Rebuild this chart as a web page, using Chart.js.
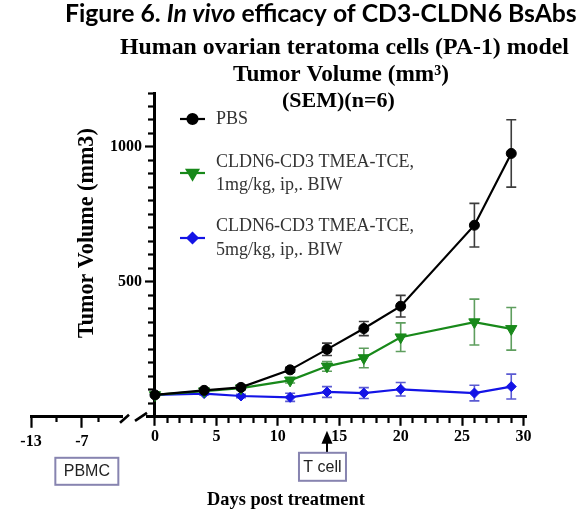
<!DOCTYPE html>
<html>
<head>
<meta charset="utf-8">
<script src="https://cdn.jsdelivr.net/npm/chart.js@4.4.1/dist/chart.umd.min.js"></script>
<style>
  html, body { margin: 0; padding: 0; background: #fff; }
  canvas { display: block; }
</style>
</head>
<body>
<canvas id="chart" width="585" height="515"></canvas>
<script>
// days post treatment (one point per measurement)
const days = [0, 4, 7, 11, 14, 17, 20, 26, 29]

// tumor volume, mm3 (mean and SEM, n=6)
const pbs = [81, 98, 109, 174, 250, 327, 410, 710, 976]
const pbsSem = [5, 6, 7, 9, 23, 26, 40, 81, 125]
const tce1 = [81, 95, 106, 135, 187, 218, 295, 351, 326]
const tce1Sem = [4, 5, 6, 10, 18, 36, 53, 85, 79]
const tce5 = [81, 86, 77, 72, 92, 88, 102, 88, 112]
const tce5Sem = [4, 5, 6, 15, 20, 20, 25, 29, 46]

// axis ticks
const preTicks = [-13, -10, -7, -5]
const preLabels = [-13, -7]
const dayLabels = [0, 5, 10, 15, 20, 25, 30]
const dayStep = 1
const volumeLabels = [500, 1000]
const volumeStep = 50

const legendLines = [
  ['PBS'],
  ['CLDN6-CD3 TMEA-TCE,', '1mg/kg, ip,. BIW'],
  ['CLDN6-CD3 TMEA-TCE,', '5mg/kg, ip,. BIW']
]
const titleParts = [['Figure 6. ', 'bold'], ['In vivo', 'italic bold'], [' efficacy of CD3-CLDN6 BsAbs', 'bold']]
const subtitleLines = ['Human ovarian teratoma cells (PA-1) model', 'Tumor Volume (mm\u00b3)', '(SEM)(n=6)']
const yTitle = 'Tumor Volume (mm3)'
const xTitle = 'Days post treatment'
const pbmcText = 'PBMC'
const tcellText = 'T cell'
const tcellDay = 14

const SERIF = '"Liberation Serif", "Times New Roman", serif'
const SANS = '"Liberation Sans", Arial, sans-serif'
const TITLE_SANS = 'Lato, "Liberation Sans", sans-serif'
const tickFont = { family: 'Liberation Serif', size: 16, weight: 'bold' }

const points = values => days.map((d, i) => ({ x: d, y: values[i] }))
const range = (from, to, step) => {
  const out = []
  for (let v = from; v <= to + 1e-9; v += step) out.push(v)
  return out
}

// draw text scaled so it spans a given width
function fitText (ctx, text, style, family, left, baseline, width) {
  ctx.font = `${style} 20px ${family}`
  const size = 20 * width / ctx.measureText(text).width
  ctx.font = `${style} ${size}px ${family}`
  ctx.fillText(text, left, baseline)
}

const errorBars = {
  id: 'errorBars',
  beforeDatasetsDraw (chart) {
    const { ctx, scales: { x, y } } = chart
    chart.data.datasets.forEach(ds => {
      ctx.save()
      ctx.strokeStyle = ds.errorColor
      ctx.lineWidth = 1.6
      ds.data.forEach((p, j) => {
        const px = x.getPixelForValue(p.x)
        const top = y.getPixelForValue(p.y + ds.sem[j])
        const bot = y.getPixelForValue(p.y - ds.sem[j])
        ctx.beginPath()
        ctx.moveTo(px, top); ctx.lineTo(px, bot)
        ctx.moveTo(px - 5, top); ctx.lineTo(px + 5, top)
        ctx.moveTo(px - 5, bot); ctx.lineTo(px + 5, bot)
        ctx.stroke()
      })
      ctx.restore()
    })
  }
}

// y axis sits at day 0, put its labels left of the ticks
const yLabelShift = {
  id: 'yLabelShift',
  beforeDraw (chart) {
    const y = chart.scales.y
    const axisX = chart.scales.x.getPixelForValue(0)
    y.getLabelItems().forEach(item => {
      item.options.translation[0] = axisX - 13
      item.options.textAlign = 'right'
    })
  }
}

const legendBox = {
  id: 'legendBox',
  afterDatasetsDraw (chart) {
    const { ctx } = chart
    const rows = [
      { markerY: 119, lines: [119] },
      { markerY: 173, lines: [162, 185] },
      { markerY: 238, lines: [226, 250] }
    ]
    chart.data.datasets.forEach((ds, i) => {
      const row = rows[i]
      ctx.save()
      ctx.strokeStyle = ds.borderColor
      ctx.fillStyle = ds.borderColor
      ctx.lineWidth = 2.2
      ctx.beginPath()
      ctx.moveTo(180, row.markerY)
      ctx.lineTo(205, row.markerY)
      ctx.stroke()
      Chart.helpers.drawPoint(ctx, {
        pointStyle: ds.pointStyle,
        radius: ds.pointRadius,
        rotation: ds.pointRotation,
        borderWidth: 1
      }, 192.5, row.markerY)
      ctx.fillStyle = '#333'
      ctx.font = `18px ${SERIF}`
      ctx.textBaseline = 'middle'
      ds.legendLines.forEach((line, k) => ctx.fillText(line, 216, row.lines[k]))
      ctx.restore()
    })
  }
}

const annotations = {
  id: 'annotations',
  afterDraw (chart) {
    const { ctx, chartArea, scales } = chart
    const axisY = chartArea.bottom
    ctx.save()
    ctx.fillStyle = '#000'
    ctx.textBaseline = 'alphabetic'

    // title, first line mixes italic
    let total = 0
    titleParts.forEach(([t, s]) => { ctx.font = `${s} 20px ${TITLE_SANS}`; total += ctx.measureText(t).width })
    const size = 20 * 512 / total
    let left = 65
    titleParts.forEach(([t, s]) => {
      ctx.font = `${s} ${size}px ${TITLE_SANS}`
      ctx.fillText(t, left, 22)
      left += ctx.measureText(t).width
    })
    fitText(ctx, subtitleLines[0], 'bold', SERIF, 120, 54, 449)
    fitText(ctx, subtitleLines[1], 'bold', SERIF, 233, 81, 216)
    ctx.font = `bold 22px ${SERIF}`
    ctx.fillText(subtitleLines[2], 282, 107)

    // axis titles
    fitText(ctx, xTitle, 'bold', SERIF, 207, 505, 158)
    ctx.save()
    ctx.translate(93, 338)
    ctx.rotate(-Math.PI / 2)
    fitText(ctx, yTitle, 'bold', SERIF, 0, 0, 210)
    ctx.restore()

    // axis break
    const gap = scales.xgap
    ctx.strokeStyle = '#000'
    ctx.lineWidth = 2.6
    ctx.beginPath()
    ctx.moveTo(gap.left - 2, axisY + 6); ctx.lineTo(gap.left + 7, axisY - 2)
    ctx.moveTo(gap.left + 13, axisY + 4); ctx.lineTo(gap.right, axisY - 4)
    ctx.stroke()

    // PBMC box
    const boxColor = '#8784b0'
    const pbmcX = scales.xl.getPixelForValue(-7) + 5
    ctx.strokeStyle = boxColor
    ctx.lineWidth = 2
    ctx.strokeRect(pbmcX - 31.5, axisY + 41, 63, 27)
    ctx.fillStyle = '#222'
    ctx.font = `16px ${SANS}`
    ctx.textAlign = 'center'
    ctx.textBaseline = 'middle'
    ctx.fillText(pbmcText, pbmcX, axisY + 55)

    // T cell arrow and box
    const tx = scales.x.getPixelForValue(tcellDay)
    ctx.fillStyle = '#000'
    ctx.beginPath()
    ctx.moveTo(tx, axisY + 14)
    ctx.lineTo(tx + 5.5, axisY + 27)
    ctx.lineTo(tx - 5.5, axisY + 27)
    ctx.closePath()
    ctx.fill()
    ctx.lineWidth = 2
    ctx.strokeStyle = '#000'
    ctx.beginPath()
    ctx.moveTo(tx, axisY + 25); ctx.lineTo(tx, axisY + 36)
    ctx.stroke()
    const bx = tx - 4.5
    ctx.strokeStyle = boxColor
    ctx.strokeRect(bx - 23.5, axisY + 36, 47, 28)
    ctx.fillStyle = '#222'
    ctx.fillText(tcellText, bx, axisY + 51)
    ctx.restore()
  }
}

const series = [
  { label: 'PBS', data: points(pbs), sem: pbsSem, legendLines: legendLines[0],
    borderColor: '#000000', backgroundColor: '#000000', errorColor: '#3c3c3c',
    pointStyle: 'circle', pointRadius: 5, pointRotation: 0 },
  { label: legendLines[1].join(' '), data: points(tce1), sem: tce1Sem, legendLines: legendLines[1],
    borderColor: '#18891a', backgroundColor: '#18891a', errorColor: '#5e9e5e',
    pointStyle: 'triangle', pointRadius: 6.5, pointRotation: 180 },
  { label: legendLines[2].join(' '), data: points(tce5), sem: tce5Sem, legendLines: legendLines[2],
    borderColor: '#1414e6', backgroundColor: '#1414e6', errorColor: '#5a5ad2',
    pointStyle: 'rectRot', pointRadius: 5, pointRotation: 0 }
]

const ctx = document.getElementById('chart').getContext('2d')
new Chart(ctx, {
  type: 'line',
  data: {
    datasets: series.map(s => ({
      ...s,
      xAxisID: 'x',
      yAxisID: 'y',
      borderWidth: 2.2,
      pointBackgroundColor: s.borderColor,
      pointBorderColor: s.borderColor,
      pointBorderWidth: 1,
      tension: 0
    }))
  },
  options: {
    responsive: false,
    animation: false,
    events: [],
    layout: { padding: { top: 93, left: 31, right: 59, bottom: 60 } },
    plugins: {
      legend: { display: false },
      tooltip: { enabled: false },
      title: { display: false }
    },
    scales: {
      xl: {
        type: 'linear',
        axis: 'x',
        position: 'bottom',
        stack: 'days',
        stackWeight: 91,
        weight: 1,
        min: -13,
        max: -2.26,
        afterBuildTicks: s => { s.ticks = preTicks.map(v => ({ value: v })) },
        ticks: {
          autoSkip: false,
          maxRotation: 0,
          padding: 4,
          font: tickFont,
          color: '#000',
          callback: v => preLabels.includes(v) ? String(v) : ''
        },
        grid: {
          drawOnChartArea: false,
          tickLength: 11,
          tickWidth: 2.2,
          tickColor: '#000',
          tickBorderDash: c => (c.tick && preLabels.includes(c.tick.value)) ? [] : [4, 40]
        },
        border: { color: '#000', width: 3 }
      },
      xgap: {
        type: 'linear',
        axis: 'x',
        position: 'bottom',
        stack: 'days',
        stackWeight: 25,
        weight: 2,
        min: 0,
        max: 1,
        ticks: { display: false },
        grid: { display: false },
        border: { display: false }
      },
      x: {
        type: 'linear',
        axis: 'x',
        position: 'bottom',
        stack: 'days',
        stackWeight: 379,
        weight: 3,
        min: -0.65,
        max: 30.2,
        afterBuildTicks: s => { s.ticks = range(0, 30, dayStep).map(v => ({ value: v })) },
        ticks: {
          autoSkip: false,
          maxRotation: 0,
          padding: 1,
          font: tickFont,
          color: '#000',
          callback: v => dayLabels.includes(v) ? String(v) : ''
        },
        grid: {
          drawOnChartArea: false,
          tickLength: 9,
          tickWidth: 2.2,
          tickColor: '#000',
          tickBorderDash: c => (c.tick && dayLabels.includes(c.tick.value)) ? [] : [5, 40]
        },
        border: { color: '#000', width: 3 }
      },
      y: {
        type: 'linear',
        axis: 'y',
        position: { x: 0 },
        min: 0,
        max: 1200,
        afterBuildTicks: s => { s.ticks = range(0, 1200, volumeStep).map(v => ({ value: v })) },
        ticks: {
          autoSkip: false,
          padding: 5,
          font: tickFont,
          color: '#000',
          callback: v => volumeLabels.includes(v) ? String(v) : ''
        },
        grid: {
          drawOnChartArea: false,
          tickLength: 8,
          tickWidth: 2.2,
          tickColor: '#000',
          tickBorderDash: c => (c.tick && volumeLabels.includes(c.tick.value)) ? [] : [5, 40]
        },
        border: { color: '#000', width: 3 }
      }
    }
  },
  plugins: [errorBars, yLabelShift, legendBox, annotations]
})
</script>
</body>
</html>
